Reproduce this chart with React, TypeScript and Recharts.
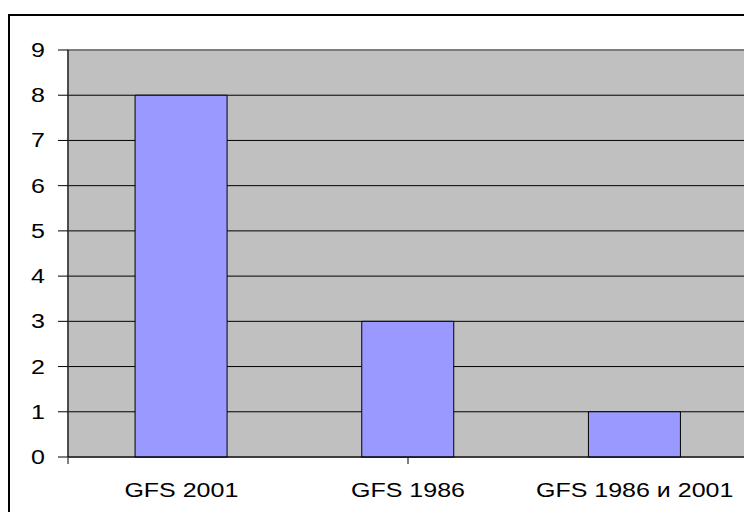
import { Bar, BarChart, CartesianGrid, ReferenceArea, XAxis, YAxis } from "recharts"

const categories = ["GFS 2001", "GFS 1986", "GFS 1986 и 2001"]
const counts = [8, 3, 1]
const yTicks = [0, 1, 2, 3, 4, 5, 6, 7, 8, 9]
const edgeTicks = [0, 1, 2, 3]

const data = categories.map((name, i) => ({ name, value: counts[i] }))

const FONT = "'Liberation Sans', Arial, sans-serif"

function StretchedTick(props: any) {
  const { x, y, payload, anchor, dy } = props
  return (
    <g transform={`translate(${x},${y}) scale(1.25,1)`}>
      <text x={0} y={0} dy={dy} textAnchor={anchor} fill="#000" fontSize={20} fontFamily={FONT}>
        {payload.value}
      </text>
    </g>
  )
}

export default function App() {
  return (
    <div style={{ position: "relative", width: 752, height: 520, margin: -8, overflow: "hidden", background: "#fff" }}>
      <div
        style={{
          position: "absolute",
          left: 8,
          top: 14,
          width: 800,
          height: 600,
          borderTop: "2px solid #000",
          borderLeft: "2px solid #000",
        }}
      />
      <div style={{ position: "absolute", left: 0, top: 0 }}>
        <BarChart
          width={752}
          height={520}
          data={data}
          margin={{ top: 50, right: 4, bottom: 61, left: 0 }}
          barCategoryGap="29.6%"
        >
          <CartesianGrid vertical={false} fill="#C0C0C0" fillOpacity={1} stroke="#000" />
          <ReferenceArea y1={0} y2={9} fill="none" stroke="#808080" strokeWidth={1.5} />
          <XAxis
            dataKey="name"
            height={1}
            axisLine={{ stroke: "#000" }}
            tickLine={false}
            tickSize={0}
            tickMargin={0}
            interval={0}
            tick={<StretchedTick anchor="middle" dy={40} />}
          />
          <XAxis
            xAxisId="edges"
            type="number"
            domain={[0, 3]}
            ticks={edgeTicks}
            height={1}
            axisLine={false}
            tickSize={6}
            tickLine={{ stroke: "#000" }}
            tickFormatter={() => ""}
          />
          <YAxis
            domain={[0, 9]}
            ticks={yTicks}
            width={68}
            axisLine={{ stroke: "#000" }}
            tickLine={{ stroke: "#000" }}
            tickSize={10}
            tickMargin={13}
            interval={0}
            tick={<StretchedTick anchor="end" dy={7} />}
          />
          <Bar dataKey="value" fill="#9999FF" stroke="#000" strokeWidth={1} isAnimationActive={false} />
        </BarChart>
      </div>
    </div>
  )
}
